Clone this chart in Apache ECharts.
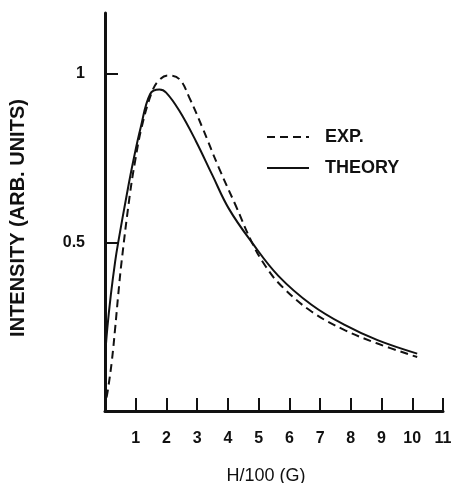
<!DOCTYPE html>
<html>
<head>
<meta charset="utf-8">
<script src="https://cdn.jsdelivr.net/npm/echarts@6/dist/echarts.min.js"></script>
<style>
  html, body { margin: 0; padding: 0; background: #fff; }
  #chart { width: 453px; height: 483px; }
</style>
</head>
<body>
<div id="chart"></div>
<script>
// EXP. (dashed) curve
const expX = [0.05, 0.1, 0.22, 0.33, 0.43, 0.54, 0.81, 0.98, 1.19, 1.52, 1.75, 2.05, 2.42, 2.74, 3.17, 3.71, 4.25, 4.78, 5.22, 5.75, 6.72, 7.8, 8.87, 10.16];
const expY = [0.04, 0.066, 0.146, 0.245, 0.344, 0.443, 0.642, 0.741, 0.84, 0.944, 0.98, 0.995, 0.984, 0.93, 0.84, 0.72, 0.61, 0.5, 0.43, 0.37, 0.295, 0.24, 0.2, 0.16];

// THEORY (solid) curve
const theoryX = [0.0, 0.075, 0.19, 0.33, 0.43, 0.71, 0.92, 1.16, 1.47, 1.77, 1.99, 2.42, 2.96, 3.49, 4.03, 4.78, 5.65, 6.72, 7.8, 8.87, 10.16];
const theoryY = [0.16, 0.245, 0.344, 0.443, 0.5, 0.642, 0.741, 0.84, 0.94, 0.953, 0.944, 0.89, 0.8, 0.7, 0.6, 0.5, 0.4, 0.315, 0.255, 0.21, 0.17];

const seriesNames = ['EXP.', 'THEORY'];
const yTicks = [0.5, 1];
const xTicks = [1, 2, 3, 4, 5, 6, 7, 8, 9, 10, 11];

const font = 'Liberation Sans';
const ink = '#111';

function pairs(xs, ys) {
  return xs.map((x, i) => [x, ys[i]]);
}

const chart = echarts.init(document.getElementById('chart'));

chart.setOption({
  backgroundColor: '#fff',
  animation: false,
  grid: {
    left: 105,
    right: 10,
    top: 13,
    bottom: 72,
    outerBoundsMode: 'none'
  },
  legend: {
    orient: 'vertical',
    left: 261,
    top: 123,
    itemWidth: 42,
    itemHeight: 14,
    itemGap: 13,
    data: seriesNames,
    itemStyle: { opacity: 0 },
    textStyle: {
      fontFamily: font,
      fontWeight: 'bold',
      fontSize: 18,
      color: ink,
      padding: [0, 0, 0, 11]
    }
  },
  xAxis: {
    type: 'value',
    min: 0,
    max: 11,
    interval: 1,
    name: 'H/100 (G)',
    nameLocation: 'middle',
    nameGap: 56,
    nameTextStyle: {
      fontFamily: font,
      fontSize: 18,
      color: ink,
      padding: [0, 16, 0, 0]
    },
    axisLine: { lineStyle: { color: ink, width: 3 } },
    axisTick: { inside: true, length: 13, customValues: xTicks, lineStyle: { color: ink, width: 2 } },
    axisLabel: {
      margin: 20,
      fontFamily: font,
      fontWeight: 'bold',
      fontSize: 16,
      color: ink,
      customValues: xTicks
    },
    splitLine: { show: false }
  },
  yAxis: {
    type: 'value',
    min: 0,
    max: 1.18,
    interval: 0.5,
    name: 'INTENSITY (ARB. UNITS)',
    nameLocation: 'middle',
    nameGap: 77,
    nameTextStyle: {
      fontFamily: font,
      fontWeight: 'bold',
      fontSize: 20,
      color: ink,
      padding: [0, 12, 0, 0]
    },
    axisLine: { show: true, lineStyle: { color: ink, width: 3 } },
    axisTick: { show: true, inside: true, length: 13, customValues: yTicks, lineStyle: { color: ink, width: 2 } },
    axisLabel: {
      margin: 20,
      fontFamily: font,
      fontWeight: 'bold',
      fontSize: 16,
      color: ink,
      customValues: yTicks
    },
    splitLine: { show: false }
  },
  series: [
    {
      name: seriesNames[0],
      type: 'line',
      smooth: 0.4,
      symbol: 'none',
      data: pairs(expX, expY),
      lineStyle: { color: ink, width: 2, type: [8, 5] },
      itemStyle: { color: ink }
    },
    {
      name: seriesNames[1],
      type: 'line',
      smooth: 0.4,
      symbol: 'none',
      data: pairs(theoryX, theoryY),
      lineStyle: { color: ink, width: 2 },
      itemStyle: { color: ink }
    }
  ]
});
</script>
</body>
</html>
